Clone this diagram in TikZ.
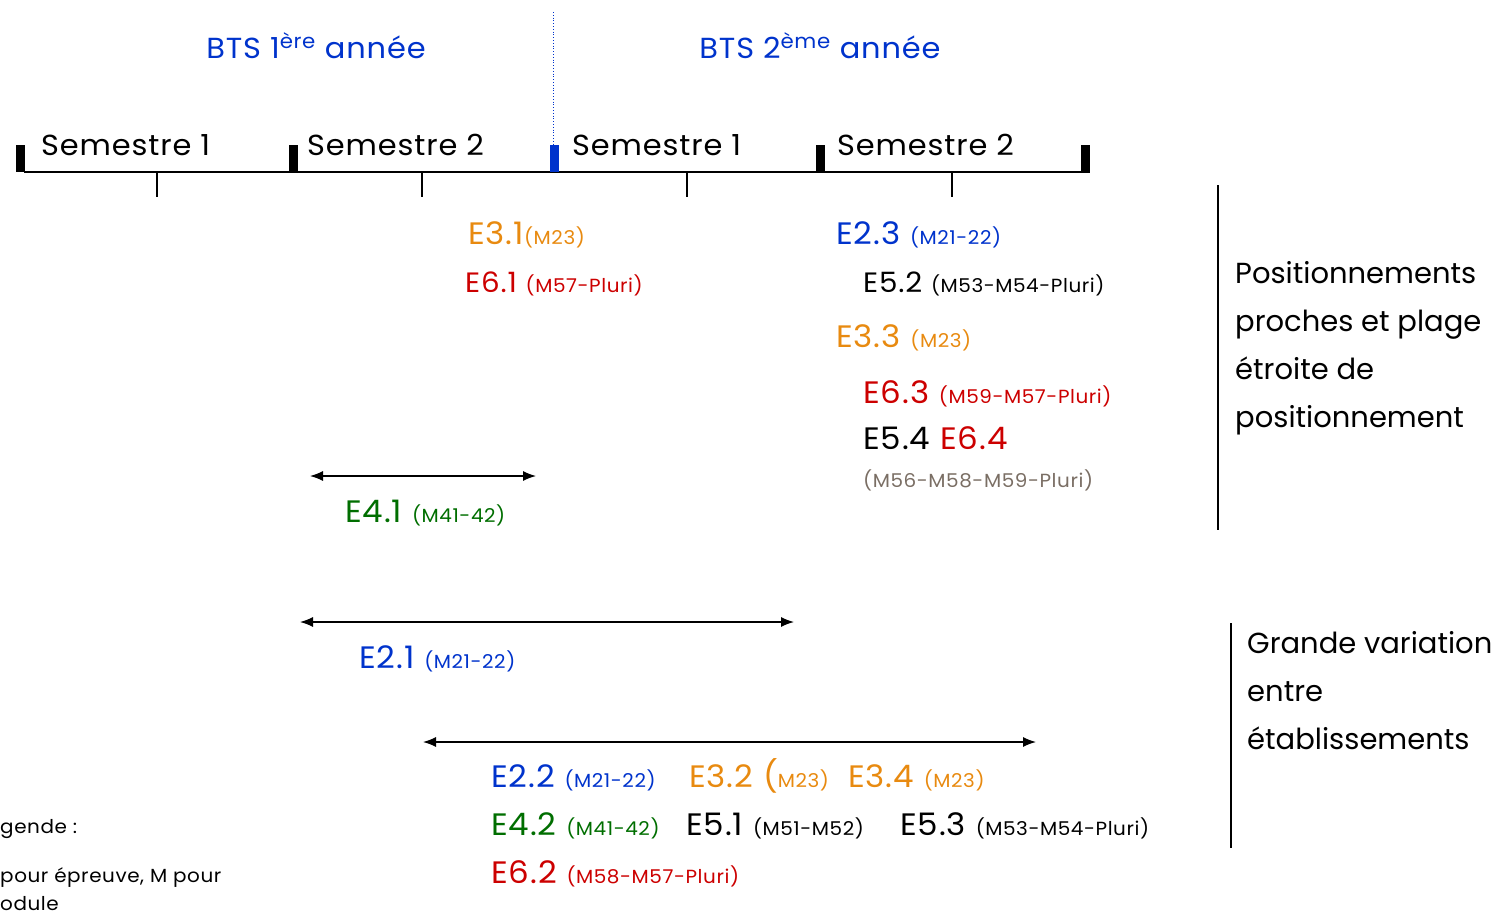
\documentclass[tikz,border=0pt]{standalone}
\usepackage{fontspec}
\setmainfont[FakeStretch=1.05,LetterSpace=3]{Poppins}
\newfontfamily\sidefont{Poppins}
\usetikzlibrary{arrows.meta}

\definecolor{btsblue}{RGB}{0,51,204}
\definecolor{btsorange}{RGB}{232,138,16}
\definecolor{btsred}{RGB}{204,0,0}
\definecolor{btsgreen}{RGB}{0,110,0}
\definecolor{btsgray}{RGB}{122,110,100}

\newcommand{\grand}{\fontsize{31}{36}\selectfont}
\newcommand{\moyen}{\fontsize{28}{32}\selectfont}
\newcommand{\petit}{\fontsize{19}{23}\selectfont}

\tikzset{
  txt/.style={anchor=base west, inner sep=0pt},
  sem/.style={txt, font=\fontsize{29}{34}\selectfont},
  annee/.style={anchor=base, inner sep=0pt, font=\fontsize{29}{34}\selectfont, text=btsblue},
  side/.style={txt, font=\sidefont\fontsize{29}{34}\selectfont},
  legende/.style={txt, font=\fontsize{19}{22}\selectfont},
  plage/.style={{Latex[length=13pt,width=10pt]}-{Latex[length=13pt,width=10pt]}, line width=1.3pt},
}

\begin{document}
\begin{tikzpicture}[x=1pt,y=-1pt]
\useasboundingbox (0,0) rectangle (1505,911);
\clip (0,0) rectangle (1505,911);

% annees
\node[annee] (an1) at (316,58) {BTS 1\textsuperscript{ère} année};
\node[annee] (an2) at (820,58) {BTS 2\textsuperscript{ème} année};
\coordinate (sep1) at (553,12);
\coordinate (sep2) at (553,145);
\draw[btsblue, dotted, line width=.8pt] (sep1) -- (sep2);

% frise
\coordinate (f0) at (24,172);
\coordinate (f1) at (1090,172);
\draw[line width=2pt] (f0) -- (f1);
\foreach \x/\c in {20/black,293/black,554/btsblue,820/black,1085/black}
  \fill[\c] (\x-4.5,145) rectangle (\x+4.5,172);
\foreach \x in {157,422,687,952}
  \draw[line width=2pt] (\x,172) -- (\x,197);

\node[sem] (s1) at (41,155) {Semestre 1};
\node[sem] (s2) at (307,155) {Semestre 2};
\node[sem] (s3) at (572,155) {Semestre 1};
\node[sem] (s4) at (837,155) {Semestre 2};

% epreuves proches
\node[txt, text=btsorange] (e31) at (468,244) {\grand E3.1\petit(M23)};
\node[txt, text=btsred] (e61) at (465,292) {\moyen E6.1 \petit(M57-Pluri)};
\node[txt, text=btsblue] (e23) at (836,244) {\grand E2.3 \petit(M21-22)};
\node[txt] (e52) at (863,292) {\moyen E5.2 \petit(M53-M54-Pluri)};
\node[txt, text=btsorange] (e33) at (836,347) {\grand E3.3 \petit(M23)};
\node[txt, text=btsred] (e63) at (863,403) {\grand E6.3 \petit(M59-M57-Pluri)};
\node[txt] (e54) at (863,449) {\grand E5.4 \textcolor{btsred}{E6.4}};
\node[txt, text=btsgray] (m56) at (863,487) {\petit(M56-M58-M59-Pluri)};

% plages
\coordinate (p1a) at (310,476);
\coordinate (p1b) at (536,476);
\draw[plage] (p1a) -- (p1b);
\node[txt, text=btsgreen] (e41) at (345,522) {\grand E4.1 \petit(M41-42)};

\coordinate (p2a) at (300,622);
\coordinate (p2b) at (794,622);
\draw[plage] (p2a) -- (p2b);
\node[txt, text=btsblue] (e21) at (359,668) {\grand E2.1 \petit(M21-22)};

\coordinate (p3a) at (423,742);
\coordinate (p3b) at (1036,742);
\draw[plage] (p3a) -- (p3b);
\node[txt, text=btsblue] (e22) at (491,787) {\grand E2.2 \petit(M21-22)};
\node[txt, text=btsorange] (e32) at (689,787) {\grand E3.2 (\petit M23)};
\node[txt, text=btsorange] (e34) at (848,787) {\grand E3.4 \petit(M23)};
\node[txt, text=btsgreen] (e42) at (491,835) {\grand E4.2 \petit(M41-42)};
\node[txt] (e51) at (686,835) {\grand E5.1 \petit(M51-M52)};
\node[txt] (e53) at (900,835) {\grand E5.3 \petit(M53-M54-Pluri)};
\node[txt, text=btsred] (e62) at (491,883) {\grand E6.2 \petit(M58-M57-Pluri)};

% commentaires
\coordinate (c1a) at (1218,185);
\coordinate (c1b) at (1218,530);
\draw[line width=1.5pt] (c1a) -- (c1b);
\node[side] (pos1) at (1235,283) {Positionnements};
\node[side] (pos2) at (1235,331) {proches et plage};
\node[side] (pos3) at (1235,379) {étroite de};
\node[side] (pos4) at (1235,427) {positionnement};

\coordinate (c2a) at (1231,623);
\coordinate (c2b) at (1231,848);
\draw[line width=1.5pt] (c2a) -- (c2b);
\node[side] (var1) at (1247,653) {Grande variation};
\node[side] (var2) at (1247,701) {entre};
\node[side] (var3) at (1247,749) {établissements};

% legende
\node[legende] (lg1) at (0,833) {\llap{Lé}gende :};
\node[legende] (lg2) at (0,882) {\llap{E }pour épreuve, M pour};
\node[legende] (lg3) at (0,910) {\llap{m}odule};
\end{tikzpicture}
\end{document}
